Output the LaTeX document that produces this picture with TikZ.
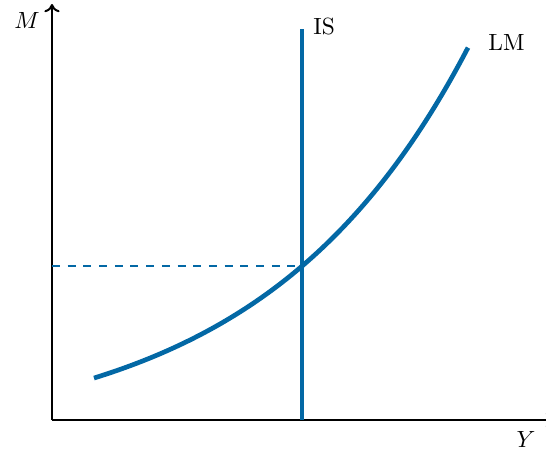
\documentclass[tikz,border=0pt]{standalone}
\usetikzlibrary{arrows.meta,positioning}
\definecolor{CurveBlue}{HTML}{0368A5}

\begin{document}
\begin{tikzpicture}[
  x=0.015cm, y=0.015cm,
  axis/.style={line width=0.85pt, -{To[length=3.5pt,width=6.5pt]}},
  curve/.style={line width=2pt, draw=CurveBlue},
  guide/.style={line width=0.6pt, draw=CurveBlue, dash pattern=on 3.4pt off 3.3pt},
  lbl/.style={inner sep=0pt}
]
  \clip (-52,-33) rectangle (494,420);

  %% Axes
  \coordinate (o) at (0,0);
  \coordinate (ytop) at (0,416);
  \coordinate (xend) at (502,0);
  \draw[axis] (o) -- (ytop);
  \draw[axis] (o) -- (xend);
  \node[lbl] (mlab) at (-25,400) {$M$};
  \node[lbl] (ylab) at (474,-19) {$Y$};

  %% IS and LM curves
  \coordinate (isbot) at (250,0);
  \coordinate (istop) at (250,391);
  \coordinate (eq) at (250,154);
  \coordinate (eqy) at (0,154);
  \coordinate (lmend) at (416,373);
  \draw[guide] (eqy) -- (eq);
  \draw[curve] (isbot) -- (istop);
  \draw[curve] plot[domain=42:416, samples=80] (\x, {-21.9+52.05*exp(0.00487*\x)});
  \node[lbl, right=11 of istop, yshift=1] (islab) {IS};
  \node[lbl, right=20 of lmend, yshift=2] (lmlab) {LM};
\end{tikzpicture}
\end{document}
